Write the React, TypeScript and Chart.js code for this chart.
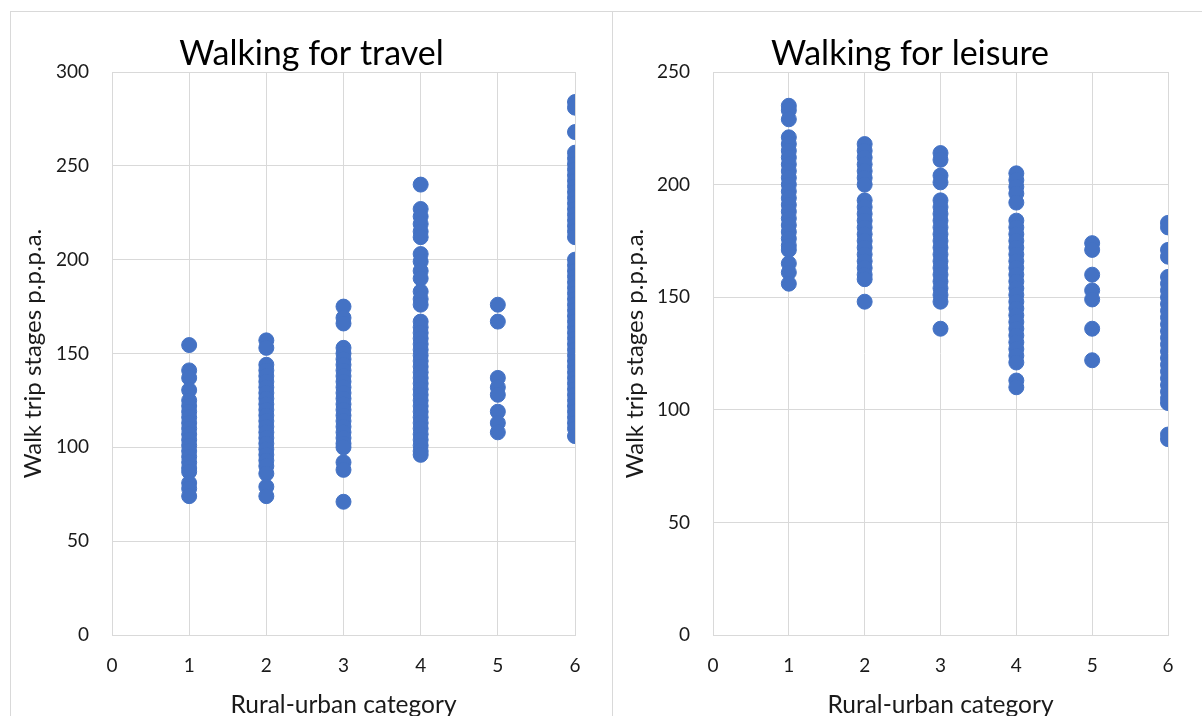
import React, { useEffect, useRef } from "react";
import { Chart, registerables } from "chart.js";

Chart.register(...registerables);

// Rural-urban category on the x axis
const categories = [1, 2, 3, 4, 5, 6];

// Walking for travel: walk trip stages per person per annum, by category
const travelCat1 = [154.5, 141, 137, 130.5, 125, 122, 119, 116, 113, 110, 107, 104, 101, 98, 95, 92, 89, 87, 81, 78, 74];
const travelCat2 = [157, 153, 144, 141, 138, 135, 132, 129, 126, 123, 120, 117, 114, 111, 108, 105, 102, 99, 96, 93, 90, 86, 79, 74];
const travelCat3 = [175, 169, 166, 153, 150, 147, 144, 141, 138, 135, 132, 129, 126, 123, 120, 117, 114, 111, 108, 105, 102, 100, 92, 88, 71];
const travelCat4 = [240, 227, 223, 219, 215, 212, 203, 199, 194, 190, 183, 179, 176, 167, 164, 161, 158, 155, 152, 149, 146, 143, 140, 137, 134, 131, 128, 125, 122, 119, 116, 113, 110, 107, 104, 101, 98, 96];
const travelCat5 = [176, 167, 137, 132, 128, 119, 113, 108];
const travelCat6 = [284, 281, 268, 257, 254, 251, 248, 245, 242, 239, 236, 233, 230, 227, 224, 221, 218, 215, 212, 200, 197, 194, 191, 188, 185, 182, 179, 176, 173, 170, 167, 164, 161, 158, 155, 152, 149, 146, 143, 140, 137, 134, 131, 128, 125, 122, 119, 116, 113, 110, 106];

// Walking for leisure: walk trip stages per person per annum, by category
const leisureCat1 = [235, 233, 229, 221, 218, 215, 212, 209, 206, 203, 200, 197, 194, 191, 188, 185, 182, 179, 176, 173, 171, 165, 161, 156];
const leisureCat2 = [218, 215, 212, 209, 206, 203, 200, 193, 190, 187, 184, 181, 178, 175, 172, 169, 166, 163, 160, 158, 148];
const leisureCat3 = [214, 211, 204, 201, 193, 190, 187, 184, 181, 178, 175, 172, 169, 166, 163, 160, 157, 154, 151, 148, 136];
const leisureCat4 = [205, 202, 199, 196, 192, 184, 181, 178, 175, 172, 169, 166, 163, 160, 157, 154, 151, 148, 145, 142, 139, 136, 133, 130, 127, 124, 121, 113, 110];
const leisureCat5 = [174, 171, 160, 153, 149, 136, 122];
const leisureCat6 = [183, 181, 171, 168, 159, 156, 153, 150, 147, 144, 141, 138, 135, 132, 129, 126, 123, 120, 117, 114, 111, 108, 105, 103, 89, 87];

const travelValues = [travelCat1, travelCat2, travelCat3, travelCat4, travelCat5, travelCat6];
const leisureValues = [leisureCat1, leisureCat2, leisureCat3, leisureCat4, leisureCat5, leisureCat6];

const xTicks = [0, 1, 2, 3, 4, 5, 6];

const FONT = "Lato, 'Open Sans', sans-serif";
const MARKER = "#4472C4";
const GRID = "#d9d9d9";
const TEXT = "#1a1a1a";

function toPoints(groups: number[][]) {
  const pts: { x: number; y: number }[] = [];
  groups.forEach((vals, i) => {
    vals.forEach((v) => pts.push({ x: categories[i], y: v }));
  });
  return pts;
}

type PanelProps = {
  title: string;
  groups: number[][];
  yMax: number;
  width: number;
  height: number;
  yAxisWidth: number;
  rightPad: number;
};

function ScatterPanel({ title, groups, yMax, width, height, yAxisWidth, rightPad }: PanelProps) {
  const ref = useRef<HTMLCanvasElement | null>(null);

  useEffect(() => {
    if (!ref.current) return;
    const chart = new Chart(ref.current, {
      type: "scatter",
      data: {
        datasets: [
          {
            data: toPoints(groups),
            backgroundColor: MARKER,
            borderColor: MARKER,
            borderWidth: 1,
            pointRadius: 7.5,
            pointHoverRadius: 7.5,
          },
        ],
      },
      options: {
        animation: false,
        responsive: false,
        maintainAspectRatio: false,
        layout: { padding: 0 },
        plugins: {
          legend: { display: false },
          tooltip: { enabled: false },
          title: {
            display: true,
            text: title,
            color: "#000",
            font: { family: FONT, size: 34, weight: "normal", lineHeight: 1.0 },
            padding: { top: 25, bottom: 1 },
          },
        },
        scales: {
          x: {
            type: "linear",
            min: 0,
            max: 6,
            afterBuildTicks: (scale: any) => {
              scale.ticks = xTicks.map((v) => ({ value: v }));
            },
            afterFit: (scale: any) => {
              scale.height = 85;
            },
            grid: { color: GRID, lineWidth: 1, drawTicks: false },
            border: { color: GRID, width: 1 },
            ticks: {
              color: TEXT,
              padding: 19,
              font: { family: FONT, size: 19 },
            },
            title: {
              display: true,
              text: "Rural-urban category",
              color: TEXT,
              font: { family: FONT, size: 24.5, lineHeight: 1.2 },
              padding: { top: 0, bottom: 0 },
            },
          },
          y: {
            type: "linear",
            min: 0,
            max: yMax,
            ticks: {
              stepSize: 50,
              color: TEXT,
              padding: 23,
              font: { family: FONT, size: 19 },
            },
            afterFit: (scale: any) => {
              scale.width = yAxisWidth;
            },
            grid: { color: GRID, lineWidth: 1, drawTicks: false },
            border: { color: GRID, width: 1 },
            title: {
              display: true,
              text: "Walk trip stages p.p.p.a.",
              color: TEXT,
              font: { family: FONT, size: 24, lineHeight: 1.2 },
              padding: { top: 8, bottom: 0 },
            },
          },
          // empty right-hand gutter so the title stays centred on the whole canvas
          gutter: {
            type: "linear",
            position: "right",
            display: true,
            grid: { display: false, drawTicks: false },
            border: { display: false },
            ticks: { display: false },
            afterFit: (scale: any) => {
              scale.width = rightPad;
            },
          },
        },
      },
    } as any);
    return () => chart.destroy();
  }, [title, groups, yMax, yAxisWidth, rightPad]);

  return <canvas ref={ref} width={width} height={height} style={{ width, height, display: "block" }} />;
}

export default function App() {
  const box: React.CSSProperties = {
    position: "absolute",
    top: 11,
    height: 730,
    boxSizing: "border-box",
    border: `1px solid ${GRID}`,
    background: "#fff",
  };
  return (
    <div
      style={{
        position: "absolute",
        left: 0,
        top: 0,
        width: 1202,
        height: 716,
        overflow: "hidden",
        background: "#fff",
      }}
    >
      <div style={{ ...box, left: 10, width: 603 }}>
        <ScatterPanel
          title="Walking for travel"
          groups={travelValues}
          yMax={300}
          width={601}
          height={708}
          yAxisWidth={101}
          rightPad={37}
        />
      </div>
      <div style={{ ...box, left: 612, width: 596 }}>
        <ScatterPanel
          title="Walking for leisure"
          groups={leisureValues}
          yMax={250}
          width={594}
          height={708}
          yAxisWidth={100}
          rightPad={39}
        />
      </div>
    </div>
  );
}
